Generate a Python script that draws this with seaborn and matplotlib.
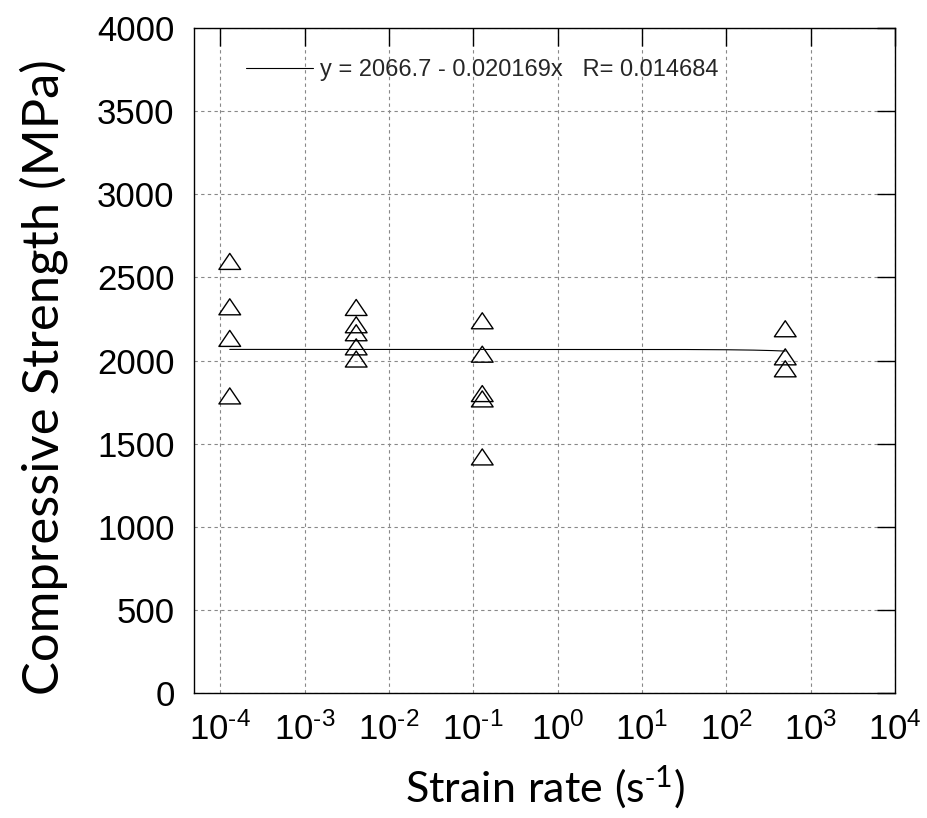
import numpy as np
import pandas as pd
import matplotlib
matplotlib.use("Agg")
import matplotlib.pyplot as plt
from matplotlib.path import Path
from matplotlib.lines import Line2D
from matplotlib.ticker import FixedFormatter
import seaborn as sns

# ---- data ----
strain_rate = [1.3e-4, 1.3e-4, 1.3e-4, 1.3e-4,
               4.1e-3, 4.1e-3, 4.1e-3, 4.1e-3, 4.1e-3,
               0.128, 0.128, 0.128, 0.128, 0.128,
               500, 500, 500]
strength = [2596, 2323, 2133, 1787,
            2319, 2215, 2167, 2082, 2009,
            2239, 2038, 1801, 1769, 1420,
            2191, 2022, 1950]
fit_intercept = 2066.7
fit_slope = -0.020169
fit_label = "y = 2066.7 - 0.020169x   R= 0.014684"
x_ticks = [1e-4, 1e-3, 1e-2, 1e-1, 1e0, 1e1, 1e2, 1e3, 1e4]
x_exponents = ["-4", "-3", "-2", "-1", "0", "1", "2", "3", "4"]
y_ticks = [0, 500, 1000, 1500, 2000, 2500, 3000, 3500, 4000]

df = pd.DataFrame({"rate": strain_rate, "strength": strength})
fit_x = np.linspace(min(strain_rate), max(strain_rate), 2000)
fit_df = pd.DataFrame({"rate": fit_x, "strength": fit_intercept + fit_slope * fit_x})

sns.set_theme(style="white")
plt.rcParams["font.family"] = ["Liberation Sans", "DejaVu Sans"]
plt.rcParams["axes.unicode_minus"] = False
plt.rcParams["mathtext.fontset"] = "custom"
plt.rcParams["mathtext.rm"] = "Liberation Sans"
plt.rcParams["mathtext.it"] = "Liberation Sans"
plt.rcParams["mathtext.sf"] = "Lato"
plt.rcParams["mathtext.default"] = "regular"

fig = plt.figure(figsize=(9.28, 8.18), dpi=100)
ax = fig.add_axes([194 / 928, 1 - 693 / 818, (895 - 194) / 928, (693 - 28) / 818])

tri = Path([(0, 0.737), (-1, -0.737), (1, -0.737), (0, 0.737)],
           [Path.MOVETO, Path.LINETO, Path.LINETO, Path.CLOSEPOLY])

sns.lineplot(data=fit_df, x="rate", y="strength", ax=ax, color="black",
             lw=0.8, legend=False)
sns.scatterplot(data=df, x="rate", y="strength", ax=ax, marker=tri, s=245,
                facecolor="none", edgecolor="black", linewidth=1.0, zorder=3)

ax.set_xscale("log")
ax.set_xlim(10 ** -4.31, 1e4)
ax.set_ylim(0, 4000)
ax.set_xticks(x_ticks)
ax.xaxis.set_major_formatter(FixedFormatter(
    [r"$10^{\text{%s}}$" % e for e in x_exponents]))
ax.set_yticks(y_ticks)
ax.minorticks_off()

ax.grid(True, which="major", color="#888888", linestyle=(0, (3, 3)), linewidth=0.8)
for s in ax.spines.values():
    s.set_color("black")
    s.set_linewidth(1.0)
ax.tick_params(which="major", direction="in", length=13, width=1.0,
               top=True, right=True, labelsize=25, colors="black")
ax.tick_params(axis="x", pad=14)
ax.tick_params(axis="y", pad=14)

ax.set_xlabel(r"$\mathsf{Strain\ rate\ (s^{\text{-}1})}$", fontsize=31, color="black")
ax.set_ylabel("Compressive Strength (MPa)", fontsize=36.5, color="black",
              family=["Lato", "DejaVu Sans"])
ax.xaxis.set_label_coords(0.5, -0.107)
ax.yaxis.set_label_coords(-0.18, 0.475)

handle = Line2D([], [], color="black", lw=0.8)
ax.legend([handle], [fit_label], loc="center left", bbox_to_anchor=(0.074, 0.937),
          frameon=False, fontsize=17, handlelength=2.85, handletextpad=0.3,
          borderpad=0, borderaxespad=0)

fig.savefig("out.png", dpi=100)
